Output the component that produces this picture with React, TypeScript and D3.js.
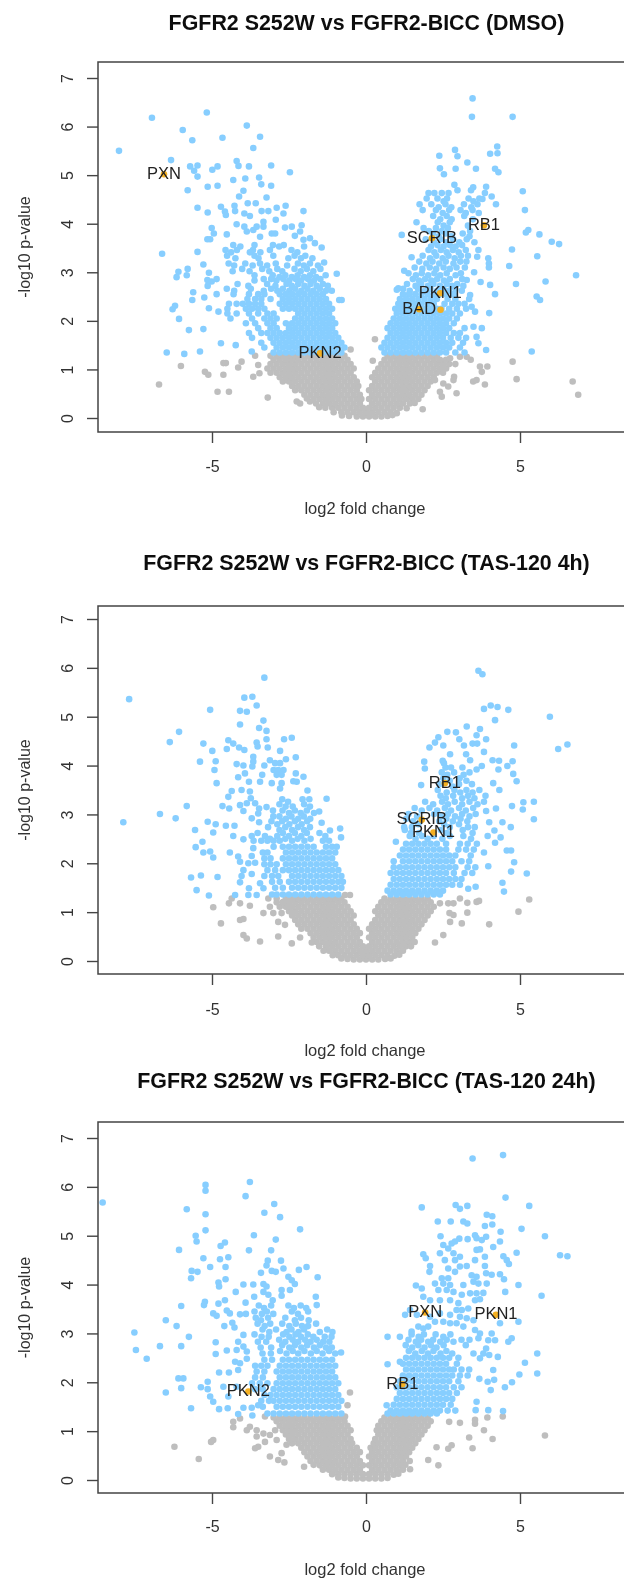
import React, { useEffect, useRef } from 'react'
import * as d3 from 'd3'

type Pt = [number, number]
type Row = [number, number[]]
type Hit = [string, number, number]

const xTicks = [-5, 0, 5]
const yTicks = [0, 1, 2, 3, 4, 5, 6, 7]

// DMSO
const dmsoSigScatter: Pt[] = [
  [-8.02,5.5],[-6.95,6.18],[-5.17,6.29],[-5.95,5.93],[-5.64,5.72],[-3.87,6.02],[-4.66,5.77],[-3.44,5.79],[-3.66,5.56],[-6.33,5.31],
  [-5.71,5.18],[-5.47,5.2],[-5.58,5.09],[-5.47,4.97],[-4.99,5.11],[-4.82,5.18],[-4.2,5.29],[-4.14,5.19],[-3.8,5.18],[-3.08,5.2],[-2.47,5.06],
  [-4.31,4.9],[-3.92,4.93],[-3.47,4.95],[-3.4,4.81],[-3.08,4.78],[-5.14,4.76],[-4.82,4.78],[-5.79,4.69],[-3.98,4.68],[-4.12,4.56],[-3.23,4.54],
  [-5.47,4.33],[-5.14,4.23],[-4.71,4.35],[-4.58,4.25],[-4.55,4.18],[-4.27,4.37],[-4.25,4.26],[-3.84,4.42],[-3.58,4.42],[-3.95,4.21],[-3.77,4.16],
  [-3.39,4.26],[-3.17,4.26],[-2.9,4.33],[-2.61,4.37],[-2.68,4.21],[-2.03,4.26],[-2.93,4.08],[-4.2,3.99],[-5.01,3.91],[-4.94,3.8],[-5.06,3.68],[-5.15,3.68],
  [-4.52,3.78],[-3.95,3.94],[-3.87,3.84],[-3.66,3.87],[-3.55,3.94],[-3.33,4.04],[-3.33,3.94],[-3.44,3.73],[-3.06,3.8],[-2.95,3.8],[-2.63,3.92],[-2.41,3.94],[-2.09,3.97],
  [-2.31,3.75],[-2.14,3.84],[-2.03,3.67],[-1.82,3.7],[-1.66,3.6],[-1.44,3.51],[-6.62,3.38],[-5.47,3.42],[-5.79,3.07],[-6.09,3.01],[-6.15,2.9],[-5.82,2.94],[-5.28,3.16],
  [-5.1,2.99],[-5.15,2.84],[-4.85,2.86],[-5.01,2.81],[-5.14,2.72],[-1.36,3.2],[-0.95,2.97],[-1.11,2.62],[-0.87,2.43],[-0.79,2.43],[-5.61,2.59],[-5.64,2.43],[-5.25,2.48],
  [-4.85,2.55],[-5.1,2.26],[-4.79,2.19],[-6.2,2.31],[-6.28,2.24],[-6.07,2.04],[-5.75,1.81],[-5.28,1.83],[-4.71,1.54],[-4.23,1.5],[-6.47,1.35],[-5.9,1.32],[-5.39,1.37],[-3.71,1.37],
  [3.46,6.58],[3.44,6.2],[4.76,6.2],[4.26,5.59],[4.03,5.44],[4.27,5.45],[2.89,5.52],[2.97,5.39],[2.38,5.4],[3.29,5.26],[2.4,5.14],[2.53,5.02],[2.91,5.13],[3.57,5.13],
  [4.19,5.13],[4.3,5.06],[2.87,4.8],[2.97,4.69],[3.48,4.75],[3.41,4.69],[3.9,4.76],[3.86,4.63],[4.08,4.56],[3.78,4.51],[5.09,4.67],[5.16,4.28],[4.22,4.4],[5.27,3.87],[5.19,3.82],
  [5.63,3.78],[6.03,3.63],[6.27,3.58],[4.74,3.47],[5.56,3.33],[4.65,3.13],[6.82,2.94],[3.97,3.29],[3.99,3.18],[3.99,3.1],[3.65,3.46],[3.61,3.32],[3.51,3.0],[3.72,2.8],[4.03,2.74],[4.19,2.55],
  [4.87,2.76],[5.83,2.81],[5.54,2.5],[5.65,2.43],[4.0,2.16],[5.38,1.37],[3.9,1.4],[3.43,2.29],[3.54,2.19],[3.38,2.53],[3.27,2.84],[3.49,1.88],[3.76,1.85],[3.59,1.67],[3.65,1.54],
  [1.16,3.77],[1.48,3.31],[1.24,3.03],[1.05,2.67],[1.0,2.64],
]
const dmsoSigRows: Row[] = [
  [4.63,[2.03,2.22,2.46,2.68]],
  [4.52,[1.97,2.32,2.63,3.33,3.68]],
  [4.46,[2.52,3.49]],
  [4.4,[1.74,2.12,2.58,3.18,3.62]],
  [4.34,[2.36,2.77,3.42]],
  [4.28,[1.84,2.27,2.7,3.07,3.46]],
  [4.22,[2.49,3.24,3.66]],
  [4.16,[2.18,2.62,3.19]],
  [4.09,[2.41,2.78,3.47]],
  [4.03,[1.64,2.33,2.72]],
  [3.96,[2.52,3.31]],
  [3.91,[1.87,2.27,2.66]],
  [3.85,[2.04,2.46,3.38]],
  [3.8,[2.17,2.58,3.14]],
  [3.74,[2.36,2.77,3.36]],
  [3.68,[1.94,2.42,2.83,3.27]],
  [3.62,[2.21,2.61,3.03,3.52]],
  [3.56,[-4.31,-3.62,-3.02,-2.67,2.32,2.72,3.12]],
  [3.53,[-4.08,-2.82,-2.01,2.11,2.52,2.91]],
  [3.46,[-4.56,-4.19,-3.67,-3.12,-2.42,2.03,2.43,2.82,3.24]],
  [3.41,[-4.38,-3.77,-3.43,-2.23,2.22,2.62,3.01]],
  [3.34,[-4.51,-3.62,-3.01,-2.32,-1.97,1.84,2.28,2.68,3.08,3.31]],
  [3.29,[-4.24,-3.49,-2.52,-2.11,-1.74,2.08,2.49,2.88]],
  [3.22,[1.73,2.16,2.59,3.06,3.26]],
  [3.18,[-4.46,-3.92,-3.44,-2.93,-2.21,-1.82,1.96,2.38,2.84]],
  [3.14,[-4.28,-3.68,-3.21,-2.56,-2.02,-1.56]],
  [3.1,[1.58,2.07,2.52,2.94,3.21]],
  [3.07,[-4.02,-3.37,-2.88,-2.32,-1.92,-1.48,1.83,2.28,2.72]],
  [3.02,[-4.33,-3.78,-3.14,-2.72,-2.12,-1.71]],
  [2.98,[1.38,1.81,2.22,2.62,3.08]],
  [2.94,[-3.62,-3.03,-2.62,-2.22,-1.82,-1.31,1.62,2.02,2.41,2.91]],
  [2.9,[-2.81,-2.41,-2.01,-1.62]],
  [2.86,[-3.32,-3.08,-2.68,-2.28,-1.88,-1.48,1.52,1.92,2.31,2.72,3.12]],
  [2.83,[-3.62,-2.91,-2.49,-2.11,-1.69,1.72,2.12,2.53]],
  [2.76,[-4.17,-3.21,-2.58,-2.2,-1.8,-1.4,1.33,1.79,2.19,2.62,2.96]],
  [2.72,[-3.82,-2.94,-2.41,-2,-1.6,-1.24,1.61,2.01,2.4,2.79,3.16]],
  [2.66,[-4.52,-3.74,-3.08,-2.7,-2.3,-1.9,-1.5,1.21,1.69,2.09,2.51,2.9]],
  [2.62,[-4.28,-3.32,-2.88,-2.49,-2.1,-1.71,-1.3,1.42,1.91,2.31,2.69,3.11]],
  [2.55,[-4.3,-3.8,-3.5,-3.3,-2.8,-2.6,-2.4,-2.2,-2,-1.8,-1.6,-1.4,1.2,1.4,1.6,1.8,2,2.2,2.4,2.6,2.85]],
  [2.45,[-3.85,-3.6,-3.4,-3.1,-2.7,-2.5,-2.3,-2.1,-1.9,-1.7,-1.5,-1.3,1.1,1.3,1.5,1.7,1.9,2.1,2.3,2.65,2.9,3.35]],
  [2.35,[-4.45,-4.2,-4,-3.8,-3.6,-3.4,-2.8,-2.6,-2.4,-2.2,-2,-1.8,-1.6,-1.4,-1.2,1.05,1.2,1.4,1.6,1.8,2,2.2,2.55,2.8,3,3.2]],
  [2.25,[-4.5,-3.9,-3.7,-3.5,-3.3,-2.7,-2.5,-2.3,-2.1,-1.9,-1.7,-1.5,-1.3,-1.1,0.95,1.1,1.3,1.5,1.7,1.9,2.1,2.3,2.45,2.7,2.95,3.25]],
  [2.15,[-4.5,-4.2,-3.8,-3.5,-3.2,-3,-2.2,-2,-1.8,-1.6,-1.4,-1.2,1,1.2,1.4,1.6,1.8,2,2.2,2.4,2.6,2.8,3.05]],
  [2.05,[-4.4,-3.7,-3.3,-3.1,-2.9,-2.3,-2.1,-1.9,-1.7,-1.5,-1.3,-1.1,0.9,1.1,1.3,1.5,1.7,1.9,2.1,2.3,2.5,2.7,2.95]],
  [1.95,[-3.9,-3.6,-3.2,-3,-2.6,-2.4,-2.2,-2,-1.8,-1.6,-1.4,-1.2,-1,0.8,1,1.2,1.4,1.6,1.8,2,2.2,2.4,2.6,2.85]],
  [1.85,[-3.5,-3.1,-2.9,-2.5,-2.3,-2.1,-1.9,-1.7,-1.5,-1.3,-1.1,0.7,0.9,1.1,1.3,1.5,1.7,1.9,2.1,2.3,2.5,2.7,3.2]],
  [1.75,[-3.8,-3.4,-3.2,-3,-2.8,-2.6,-2.4,-2.2,-2,-1.8,-1.6,-1.4,-1.2,-1,0.8,1,1.2,1.4,1.6,1.8,2,2.2,2.4,2.6,2.85,3.05]],
  [1.65,[-3.7,-3.1,-2.9,-2.7,-2.5,-2.3,-2.1,-1.9,-1.7,-1.5,-1.3,-1.1,-0.9,0.7,0.9,1.1,1.3,1.5,1.7,1.9,2.1,2.3,2.5,2.75,3,3.25]],
  [1.55,[-3.4,-3,-2.8,-2.6,-2.4,-2.2,-2,-1.8,-1.6,-1.4,-1.2,-1,-0.8,0.6,0.8,1,1.2,1.4,1.6,1.8,2,2.2,2.4,2.6,2.8,3.15]],
  [1.45,[-3.3,-2.9,-2.7,-2.5,-2.3,-2.1,-1.9,-1.7,-1.5,-1.3,-1.1,-0.9,-0.7,0.5,0.7,0.9,1.1,1.3,1.5,1.7,1.9,2.1,2.3,2.5,2.7,3.05]],
  [1.35,[-3,-2.8,-2.6,-2.4,-2.2,-2,-1.8,-1.6,-1.4,-1.2,-1,-0.8,0.6,0.8,1,1.2,1.4,1.6,1.8,2,2.2,2.4,2.6,2.9,3.2]],
]
const dmsoNsScatter: Pt[] = [
  [-6.72,0.69],[-6.01,1.07],[-5.23,0.95],[-5.12,0.89],[-4.63,1.13],[-4.55,1.13],[-4.63,0.89],[-4.82,0.54],[-4.45,0.54],[-4.04,1.16],[-4.15,1.04],[-3.6,1.28],[-3.5,1.09],[-3.66,0.85],[-3.46,0.92],
  [-3.19,0.42],[-2.25,0.34],[-2.14,0.3],[-0.5,1.41],[0.29,1.62],[0.22,1.18],[3.7,1.06],[3.94,1.06],[3.76,0.95],[4.76,1.16],[4.89,0.8],[2.86,0.85],[3.48,0.75],[3.59,0.78],
  [3.86,0.69],[6.71,0.75],[6.89,0.48],[1.84,0.18],[2.94,0.51],[2.46,0.44],[2.4,0.54],[2.84,0.78],[2.67,0.65],[2.51,0.71],[2.24,0.78],[2.73,1.23],[3.05,1.26],[3.27,1.26],
  [-1.05,0.12],[1.0,0.1],[-1.32,0.21],[-1.52,0.22],[1.32,0.2],[-1.62,0.3],[-1.82,0.34],[1.42,0.3],[1.58,0.31],[-1.92,0.4],[1.7,0.39],[-0.55,0.04],[-0.78,0.05],[0.7,0.04],[0.86,0.06],
]
const dmsoNsRows: Row[] = [
  [0.03,[-0.3,-0.1,0.1,0.3,0.5]],
  [0.12,[-0.8,-0.6,-0.4,-0.2,0,0.2,0.4,0.6,0.8]],
  [0.21,[-1.1,-0.9,-0.7,-0.5,-0.3,-0.1,0.1,0.3,0.5,0.7,0.9,1.1]],
  [0.3,[-1.4,-1.2,-1,-0.8,-0.6,-0.4,-0.2,0.2,0.4,0.6,0.8,1,1.2]],
  [0.39,[-1.7,-1.5,-1.3,-1.1,-0.9,-0.7,-0.5,-0.3,-0.15,0.1,0.3,0.5,0.7,0.9,1.1,1.3,1.5]],
  [0.48,[-2,-1.8,-1.6,-1.4,-1.2,-1,-0.8,-0.6,-0.4,-0.2,0.2,0.4,0.6,0.8,1,1.2,1.4,1.6,1.8]],
  [0.57,[-2.3,-2.1,-1.9,-1.7,-1.5,-1.3,-1.1,-0.9,-0.7,-0.5,-0.3,0.1,0.3,0.5,0.7,0.9,1.1,1.3,1.5,1.7,1.9]],
  [0.66,[-2.4,-2.2,-2,-1.8,-1.6,-1.4,-1.2,-1,-0.8,-0.6,-0.4,-0.25,0.2,0.4,0.6,0.8,1,1.2,1.4,1.6,1.8,2]],
  [0.75,[-2.7,-2.5,-2.3,-2.1,-1.9,-1.7,-1.5,-1.3,-1.1,-0.9,-0.7,-0.5,-0.3,0.3,0.5,0.7,0.9,1.1,1.3,1.5,1.7,1.9,2.1]],
  [0.84,[-2.8,-2.6,-2.4,-2.2,-2,-1.8,-1.6,-1.4,-1.2,-1,-0.8,-0.6,-0.4,0.2,0.4,0.6,0.8,1,1.2,1.4,1.6,1.8,2,2.2]],
  [0.93,[-3.1,-2.9,-2.7,-2.5,-2.3,-2.1,-1.9,-1.7,-1.5,-1.3,-1.1,-0.9,-0.7,-0.5,0.3,0.5,0.7,0.9,1.1,1.3,1.5,1.7,1.9,2.1,2.3,2.5]],
  [1.02,[-3.2,-3,-2.8,-2.6,-2.4,-2.2,-2,-1.8,-1.6,-1.4,-1.2,-1,-0.8,-0.6,-0.4,0.4,0.6,0.8,1,1.2,1.4,1.6,1.8,2,2.2,2.4,2.6]],
  [1.11,[-3.1,-2.9,-2.7,-2.5,-2.3,-2.1,-1.9,-1.7,-1.5,-1.3,-1.1,-0.9,-0.7,-0.5,0.5,0.7,0.9,1.1,1.3,1.5,1.7,1.9,2.1,2.3,2.5,2.7,2.9]],
  [1.2,[-3,-2.8,-2.6,-2.4,-2.2,-2,-1.8,-1.6,-1.4,-1.2,-1,-0.8,-0.6,0.6,0.8,1,1.2,1.4,1.6,1.8,2,2.2,2.4,2.6,3.4]],
  [1.28,[-3.1,-2.9,-2.7,-2.5,-2.3,-2.1,-1.9,-1.7,-1.5,-1.3,-1.1,-0.9,-0.7,0.7,0.9,1.1,1.3,1.5,1.7,1.9,2.1,2.3]],
]
const dmsoHits: Hit[] = [['PXN',-6.56,5.02],['PKN2',-1.49,1.33],['SCRIB',2.14,3.7],['RB1',3.83,3.97],['PKN1',2.41,2.57],['BAD',1.73,2.24],['',2.42,2.23]]

// TAS-120 4h
const h4SigScatter: Pt[] = [
  [-3.3,5.8],[-7.69,5.36],[-3.95,5.39],[-3.69,5.41],[-5.06,5.14],[-4.09,5.12],[-3.87,5.1],[-3.55,5.23],[-3.33,4.92],[-4.09,4.84],[-3.47,4.77],[-3.23,4.71],[-3.23,4.54],[-6.07,4.69],[-6.37,4.48],
  [-5.28,4.45],[-4.99,4.3],[-4.47,4.52],[-4.31,4.45],[-4.52,4.34],[-4.12,4.37],[-3.95,4.32],[-3.55,4.47],[-3.52,4.39],[-3.19,4.37],[-2.66,4.54],[-2.41,4.57],[-2.79,4.3],[-5.39,4.08],[-4.88,4.09],[-4.92,3.91],
  [-3.66,4.18],[-3.66,4.08],[-3.69,3.98],[-4.2,4.03],[-3.98,4.0],[-3.12,4.11],[-3.3,4.0],[-2.6,4.13],[-2.28,4.17],[-2.95,4.05],[-2.79,4.05],[-3.0,3.91],[-2.85,3.91],[-2.68,3.91],[-2.9,3.81],[-2.74,3.81],
  [-2.28,3.84],[-2.03,3.77],[-2.36,3.68],[-2.25,3.67],[-3.93,3.84],[-4.15,3.76],[-3.8,3.67],[-3.44,3.67],[-3.37,3.81],[-3.06,3.64],[-2.74,3.64],[-2.79,3.53],[-4.85,3.64],[-4.36,3.48],[-4.47,3.36],[-4.04,3.5],[-3.77,3.47],[-3.74,3.33],
  [-1.9,3.49],[-1.28,3.32],[-5.82,3.17],[-6.69,3.01],[-6.18,2.92],[-7.88,2.84],[-4.66,3.17],[-4.44,3.12],[-4.09,3.19],[-3.87,3.23],[-3.98,3.07],[-3.6,3.23],[-3.23,3.15],[-3.47,3.12],[-3.5,3.02],[-3.71,2.92],[-3.47,2.84],
  [-5.14,2.85],[-4.88,2.8],[-4.55,2.77],[-4.27,2.77],[-5.55,2.68],[-4.96,2.63],[-4.31,2.56],[-3.98,2.49],[-5.31,2.44],[-5.53,2.33],[-5.28,2.22],[-5.06,2.24],[-4.96,2.12],[-4.42,2.22],[-4.15,2.14],[-4.09,2.03],[-3.66,2.31],
  [-3.71,2.15],[-3.82,2.0],[-3.6,2.01],[-3.98,1.86],[-4.04,1.74],[-3.71,1.78],[-4.09,1.61],[-5.68,1.71],[-5.36,1.75],[-4.82,1.72],[-5.5,1.45],[-5.1,1.34],[-4.25,1.35],[-3.8,1.49],[-3.82,1.35],[-3.55,1.35],[-3.44,1.59],[-3.33,1.49],
  [-0.84,2.71],[-0.81,2.53],[-1.17,2.67],[-1.44,2.83],[-1.52,3.06],
  [3.65,5.94],[3.78,5.87],[3.83,5.16],[4.05,5.23],[4.27,5.2],[4.62,5.14],[4.19,4.93],[5.97,5.0],[6.24,4.34],[6.54,4.43],[3.27,4.8],[3.7,4.75],[3.59,4.62],[2.64,4.69],[2.92,4.68],[2.35,4.58],[3.03,4.54],[3.9,4.54],
  [2.06,4.37],[2.24,4.47],[2.51,4.41],[3.18,4.41],[3.46,4.45],[3.61,4.45],[4.81,4.41],[3.83,4.28],[2.73,4.23],[3.25,4.23],[3.38,4.11],[4.11,4.11],[4.32,4.1],[4.76,4.09],[1.89,4.08],[1.91,3.94],[2.49,4.1],[2.53,4.05],
  [3.59,3.92],[3.76,3.99],[4.3,3.92],[4.59,3.99],[4.78,3.83],[4.89,3.68],[4.13,3.64],[4.33,3.5],[1.79,3.6],[5.11,3.25],[5.45,3.26],[5.09,3.1],[4.74,3.17],[4.22,3.12],[3.9,3.07],[5.45,2.9],[4.0,2.84],[4.43,2.84],[4.7,2.74],
  [4.17,2.67],[4.37,2.53],[3.95,2.56],[4.19,2.42],[4.57,2.26],[4.71,2.26],[3.83,2.22],[4.81,2.02],[4.71,1.83],[5.22,1.79],[3.97,1.94],[4.43,1.6],[4.48,1.42],[0.97,2.44],[3.32,1.48],[3.56,1.52],
]
const h4SigRows: Row[] = [
  [3.96,[2.58,2.76,3.13]],
  [3.86,[2.46,2.86,3.36]],
  [3.81,[2.64,3.17]],
  [3.74,[2.51,3.04]],
  [3.69,[2.72,3.26]],
  [3.62,[2.38,3.02,3.44]],
  [3.57,[2.81]],
  [3.5,[2.33,2.87,3.26,3.68]],
  [3.45,[2.62,3.06,3.46]],
  [3.38,[2.42,2.83,3.31,3.88]],
  [3.33,[2.59,3.12,3.52]],
  [3.31,[-2.72,-2.06,-1.84]],
  [3.26,[-2.53,1.92,2.47,2.88,3.36,3.83]],
  [3.21,[-2.81,-2.01,2.18,2.66,3.12,3.62]],
  [3.16,[-2.61,-2.38,-1.82]],
  [3.13,[1.58,2.06,2.56,3.02,3.48]],
  [3.08,[-3.02,-2.71,-2.31,-1.92,1.81,2.31,2.76,3.24]],
  [3.03,[-2.5,-2.12,-1.69]],
  [3.01,[1.38,2.21,2.66,3.12,3.56]],
  [2.96,[-3.01,-2.81,-2.42,-2.02,1.66,2.43,2.89,3.36]],
  [2.91,[-2.6,-2.2,-1.81,1.31,2.61,3.07]],
  [2.86,[-3.07,-2.72,-2.31,-1.91,1.53,2.38,2.82,3.29]],
  [2.8,[-2.88,-2.49,-2.09,1.7,2.54,3.02]],
  [2.74,[-3.18,-2.62,-2.21,-1.82,1.24,1.49,2.72,3.31,3.53]],
  [2.68,[-2.81,-2.4,-2.01,1.26,2.43,3.14]],
  [2.62,[-3.52,-2.7,-2.31,-1.92,-1.51,1.46,1.72,2.62,3.46]],
  [2.56,[-3.71,-3.28,-2.88,-2.5,-2.1,-1.32,1.42,1.82,2.2,2.72,3.16]],
  [2.5,[-3.12,-2.62,-2.22,-1.8,1.61,2,2.48,3.41]],
  [2.46,[-3.65,-3.4,-3.2,-3,-2.8,-2.4,-2,-1.4,-1.2]],
  [2.4,[1.3,1.5,1.7,1.9,2.1,2.3,2.6,3.05,3.3,3.6]],
  [2.34,[-3,-2.7,-2.5,-2.3,-2.1,-1.9,-1.7,-1.3,-1.1,-0.95]],
  [2.28,[1.2,1.4,1.6,1.8,2,2.2,2.4,2.6,3,3.25,3.5]],
  [2.22,[-3.35,-3.2,-2.6,-2.4,-2.2,-2,-1.8,-1.6,-1.4,-1.2,-1]],
  [2.16,[1.1,1.3,1.5,1.7,1.9,2.1,2.3,2.5,2.7,2.9,3.4]],
  [2.1,[-3.3,-3.1,-2.7,-2.5,-2.3,-2.1,-1.9,-1.7,-1.5,-1.3,-1.1]],
  [2.04,[0.9,1.2,1.4,1.6,1.8,2,2.2,2.4,2.6,2.8,3.1,3.35]],
  [1.98,[-3.3,-3.1,-2.9,-2.6,-2.4,-2.2,-2,-1.8,-1.6,-1.4,-1.2,-1]],
  [1.92,[0.9,1.1,1.3,1.5,1.7,1.9,2.1,2.3,2.5,2.7,2.9,3.3,3.55]],
  [1.86,[-3.2,-2.95,-2.7,-2.5,-2.3,-2.1,-1.9,-1.7,-1.5,-1.3,-1.1,-0.9]],
  [1.8,[0.8,1,1.2,1.4,1.6,1.8,2,2.2,2.4,2.6,2.85,3.2,3.45]],
  [1.74,[-3.3,-3.05,-2.85,-2.4,-2.2,-2,-1.8,-1.6,-1.4,-1.2,-1,-0.8]],
  [1.68,[0.9,1.1,1.3,1.5,1.7,1.9,2.1,2.3,2.5,2.7,2.9,3.1]],
  [1.62,[-3.05,-2.8,-2.5,-2.3,-2.1,-1.9,-1.7,-1.5,-1.3,-1.1,-0.9,-0.75]],
  [1.56,[0.8,1,1.2,1.4,1.6,1.8,2,2.2,2.4,2.6,2.8,3.05]],
  [1.5,[-2.95,-2.7,-2.4,-2.2,-2,-1.8,-1.6,-1.4,-1.2,-1,-0.8]],
  [1.44,[0.7,0.9,1.1,1.3,1.5,1.7,1.9,2.1,2.3,2.5]],
  [1.36,[-3.05,-2.9,-2.7,-2.5,-2.3,-2.1,-1.9,-1.7,-1.5,-1.3,-1.1,-0.9,0.8,1,1.2,1.4,1.6,1.8,2,2.2,2.4]],
]
const h4NsScatter: Pt[] = [
  [-4.96,1.1],[-4.45,1.18],[-4.36,1.28],[-4.09,1.18],[-3.77,1.13],[-4.71,0.77],[-4.09,0.84],[-3.98,0.86],[-3.98,0.53],[-3.87,0.46],[-3.44,0.4],[-2.85,0.5],[-2.41,0.36],[-2.14,0.48],
  [-3.33,0.98],[-3.12,1.11],[-3.01,0.98],[-2.74,0.98],[-2.63,0.74],[-2.85,0.8],[-3.17,1.28],[-2.9,1.28],[-2.68,1.21],[-0.52,1.35],[-0.68,1.35],
  [3.05,1.28],[3.29,1.19],[3.59,1.21],[3.67,1.23],[3.29,0.99],[2.71,0.98],[2.84,0.94],[3.11,0.77],[4.0,0.75],[4.95,1.01],[5.3,1.26],[2.24,0.38],[2.51,0.53],[2.73,0.8],[2.67,1.18],[2.84,1.18],[2.4,1.18],
  [-1.08,0.12],[0.92,0.11],[1.08,0.13],[-1.38,0.21],[1.2,0.21],[-1.52,0.3],[1.46,0.3],[-1.76,0.38],[1.58,0.39],[-0.6,0.04],[-0.8,0.05],[0.62,0.04],[0.8,0.05],
]
const h4NsRows: Row[] = [
  [0.03,[-0.4,-0.2,0,0.2,0.4]],
  [0.12,[-0.9,-0.7,-0.5,-0.3,-0.1,0.1,0.3,0.5,0.7]],
  [0.21,[-1.2,-1,-0.8,-0.6,-0.4,-0.2,0,0.2,0.4,0.6,0.8,1]],
  [0.3,[-1.3,-1.1,-0.9,-0.7,-0.5,-0.3,-0.1,0.1,0.3,0.5,0.7,0.9,1.1,1.3]],
  [0.39,[-1.6,-1.4,-1.2,-1,-0.8,-0.6,-0.4,-0.2,0.2,0.4,0.6,0.8,1,1.2,1.4]],
  [0.48,[-1.7,-1.5,-1.3,-1.1,-0.9,-0.7,-0.5,-0.3,0.1,0.3,0.5,0.7,0.9,1.1,1.3,1.5]],
  [0.57,[-1.8,-1.6,-1.4,-1.2,-1,-0.8,-0.6,-0.4,-0.2,0.2,0.4,0.6,0.8,1,1.2,1.4,1.6]],
  [0.66,[-2.1,-1.9,-1.7,-1.5,-1.3,-1.1,-0.9,-0.7,-0.5,-0.3,0.1,0.3,0.5,0.7,0.9,1.1,1.3,1.5,1.7]],
  [0.75,[-2.2,-2,-1.8,-1.6,-1.4,-1.2,-1,-0.8,-0.6,-0.4,0.2,0.4,0.6,0.8,1,1.2,1.4,1.6,1.8]],
  [0.84,[-2.3,-2.1,-1.9,-1.7,-1.5,-1.3,-1.1,-0.9,-0.7,-0.5,0.3,0.5,0.7,0.9,1.1,1.3,1.5,1.7,1.9]],
  [0.93,[-2.4,-2.2,-2,-1.8,-1.6,-1.4,-1.2,-1,-0.8,-0.6,-0.4,0.4,0.6,0.8,1,1.2,1.4,1.6,1.8,2]],
  [1.02,[-2.5,-2.3,-2.1,-1.9,-1.7,-1.5,-1.3,-1.1,-0.9,-0.7,-0.5,0.3,0.5,0.7,0.9,1.1,1.3,1.5,1.7,1.9,2.1]],
  [1.11,[-2.8,-2.6,-2.4,-2.2,-2,-1.8,-1.6,-1.4,-1.2,-1,-0.8,-0.6,0.4,0.6,0.8,1,1.2,1.4,1.6,1.8,2,2.2]],
  [1.2,[-2.9,-2.7,-2.5,-2.3,-2.1,-1.9,-1.7,-1.5,-1.3,-1.1,-0.9,-0.7,0.5,0.7,0.9,1.1,1.3,1.5,1.7,1.9,2.1]],
  [1.28,[-2.6,-2.4,-2.2,-2,-1.8,-1.6,-1.4,-1.2,-1,-0.8,0.6,0.8,1,1.2,1.4,1.6,1.8,2]],
]
const h4Hits: Hit[] = [['RB1',2.56,3.64],['SCRIB',1.81,2.89],['PKN1',2.19,2.63]]

// TAS-120 24h
const h24SigScatter: Pt[] = [
  [-8.55,5.68],[-3.77,6.1],[-5.21,6.04],[-5.21,5.92],[-3.91,5.81],[-2.98,5.65],[-5.82,5.54],[-5.21,5.44],[-3.3,5.47],[-2.79,5.38],[-5.21,5.11],[-2.14,5.13],[-5.53,5.0],[-5.5,4.88],[-3.64,5.01],[-2.93,4.92],
  [-4.58,4.86],[-4.72,4.79],[-6.07,4.71],[-3.8,4.7],[-3.08,4.7],[-5.28,4.54],[-4.74,4.52],[-4.47,4.56],[-5.06,4.36],[-4.56,4.36],[-5.66,4.28],[-5.47,4.26],[-5.68,4.13],[-4.56,4.11],[-4.79,4.04],[-4.77,3.96],
  [-3.19,4.49],[-3.23,4.39],[-2.76,4.49],[-2.68,4.33],[-3.41,4.24],[-3.06,4.28],[-2.93,4.26],[-2.18,4.3],[-1.93,4.36],[-1.57,4.15],[-3.98,4.0],[-3.66,4.0],[-4.23,3.85],[-3.33,4.01],[-3.23,3.96],[-3.33,3.85],[-3.17,3.79],
  [-2.52,4.16],[-2.41,4.09],[-2.31,4.01],[-2.47,3.89],[-2.74,3.89],[-2.74,3.77],[-3.63,3.75],[-3.03,3.68],[-1.63,3.75],[-1.6,3.58],[-4.58,3.68],[-4.79,3.61],[-5.23,3.65],[-5.26,3.58],[-6.0,3.56],[-3.91,3.63],
  [-4.96,3.41],[-4.85,3.36],[-4.52,3.47],[-4.42,3.41],[-4.09,3.39],[-3.9,3.4],[-6.5,3.27],[-6.15,3.15],[-4.6,3.15],[-4.34,3.22],[-4.27,3.12],[-7.52,3.02],[-5.75,2.93],[-7.47,2.66],[-7.12,2.48],[-6.69,2.74],[-6.0,2.74],
  [-4.88,2.82],[-4.88,2.58],[-4.52,2.65],[-4.15,2.83],[-3.98,2.97],[-4.2,2.66],[-3.98,2.73],[-3.87,2.63],[-3.87,2.48],[-4.25,2.42],[-4.09,2.39],[-4.77,2.2],[-4.45,2.2],[-4.15,2.25],[-6.09,2.08],[-5.93,2.08],[-6.0,1.88],
  [-6.5,1.79],[-5.14,2.01],[-5.36,1.9],[-5.14,1.86],[-5.06,1.71],[-4.96,1.6],[-5.68,1.47],[-4.77,1.45],[-4.49,1.47],[-4.15,1.35],[-3.98,1.48],[-3.71,1.48],[-3.69,1.32],[-3.5,1.53],[-4.63,1.91],[-4.47,1.71],[-4.2,1.91],[-0.81,2.61],
  [3.46,6.58],[4.45,6.65],[4.53,5.78],[1.81,5.58],[2.91,5.63],[3.05,5.55],[3.29,5.61],[5.3,5.61],[3.92,5.43],[4.1,5.4],[2.33,5.29],[2.75,5.29],[3.16,5.29],[3.29,5.25],[3.86,5.2],[4.1,5.23],[4.37,5.08],[5.05,5.14],
  [5.81,4.99],[2.42,4.99],[3.03,4.94],[3.3,4.93],[3.54,5.01],[3.59,4.95],[3.9,4.98],[3.76,4.91],[4.35,4.88],[4.13,4.77],[2.78,4.84],[2.89,4.88],[2.51,4.81],[3.59,4.71],[3.7,4.72],[4.89,4.65],[6.3,4.6],[6.54,4.58],
  [4.46,4.58],[4.57,4.5],[4.64,4.42],[1.86,4.62],[1.94,4.54],[2.08,4.38],[2.06,4.26],[2.4,4.64],[2.67,4.74],[2.84,4.64],[3.05,4.57],[3.54,4.5],[3.86,4.57],[2.56,4.5],[2.89,4.5],[2.67,4.33],[3.05,4.37],[3.27,4.38],[2.89,4.26],
  [3.86,4.38],[3.9,4.23],[4.08,4.2],[3.92,4.02],[3.43,4.19],[3.59,4.16],[3.49,4.06],[3.65,4.02],[4.35,4.21],[4.48,4.11],[4.95,3.99],[4.52,3.85],[5.7,3.77],[1.62,3.98],[1.81,3.92],[2.24,4.02],[2.46,4.13],[2.67,4.13],
  [2.51,4.02],[2.73,3.99],[2.35,3.89],[2.62,3.89],[2.84,3.85],[3.16,3.99],[3.11,3.79],[3.38,3.82],[3.59,3.82],[3.81,3.83],[3.54,3.68],[3.7,3.7],[1.86,3.75],[2.08,3.68],[2.4,3.68],[2.73,3.68],[3.0,3.62],[3.11,3.48],[2.94,3.48],[3.32,3.51],
  [1.27,3.38],[1.43,3.48],[1.65,3.38],[2.08,3.34],[2.4,3.41],[2.73,3.38],[4.95,3.24],[4.35,3.21],[3.05,3.34],[3.27,3.31],[2.94,3.21],[3.16,3.14],[3.49,3.27],[1.48,3.04],[1.7,3.14],[1.86,3.1],[2.02,3.14],[2.24,3.24],[2.51,3.24],[2.73,3.21],
  [0.7,2.93],[1.1,2.93],[3.54,3.07],[3.7,3.0],[4.08,3.0],[3.97,2.86],[4.19,2.86],[3.65,2.9],[4.62,2.83],[4.73,2.9],[3.9,2.69],[3.49,2.59],[3.7,2.49],[4.0,2.56],[4.28,2.52],[3.81,2.59],[5.56,2.59],[5.16,2.4],[5.56,2.18],[4.98,2.16],
  [0.7,2.37],[1.1,2.42],[4.13,2.25],[3.68,2.07],[3.95,2.01],[4.16,2.05],[4.05,1.84],[4.51,1.9],[4.74,2.0],[3.97,1.43],[4.45,1.41],[3.59,1.6],[3.56,1.43],[0.67,1.53],
]
const h24SigRows: Row[] = [
  [3.57,[-3.48,-3.08,-2.52,-2.12]],
  [3.52,[-3.31,-2.34,-1.94]],
  [3.45,[-3.62,-3.22,-2.41,-1.88]],
  [3.4,[-3.38,-3.01,-2.21]],
  [3.32,[-3.58,-3.18,-2.62,-2.11]],
  [3.27,[-3.41,-2.31,-1.86]],
  [3.2,[-3.52,-3.11,-2.72,-2.28,-1.62]],
  [3.15,[-3.29,-2.49,-2.08,-1.88]],
  [3.08,[-3.36,-2.92,-2.42,-2.01,-1.26]],
  [3.03,[-3.14,-2.58,-2.19,-1.5,-1.09]],
  [2.98,[-3.62,-2.69,-2.29,-1.89,1.48,1.88,2.26,2.74]],
  [2.93,[-3.39,-3.16,-2.49,-2.11,-1.71,-1.34,-1.12,1.71,2.51]],
  [2.87,[-2.82,-2.38,-1.98,-1.6,1.38,1.79,2.18,2.62,3.1,3.36]],
  [2.83,[-3.51,-3.24,-2.62,-2.2,-1.8,-1.39,-1.19,1.62,2.02,2.41,2.84]],
  [2.76,[-2.72,-2.31,-1.91,-1.5,1.29,1.7,2.11,2.52,3.24]],
  [2.71,[-3.42,-3.08,-2.49,-2.1,-1.69,-1.3,-1.11,1.5,1.9,2.29]],
  [2.64,[-2.79,-2.38,-2,-1.6,-1.2,1.39,1.81,2.19,2.61]],
  [2.59,[-3.36,-3.09,-2.58,-2.2,-1.79,-1.41,-1,1.6,2.01,2.42,2.8]],
  [2.5,[1.3,1.5,1.7,1.9,2.1,2.3,2.5,2.7,3]],
  [2.46,[-3.3,-3.05,-2.7,-2.5,-2.3,-2.1,-1.9,-1.7,-1.5,-1.3,-1.1]],
  [2.38,[1.2,1.4,1.6,1.8,2,2.2,2.4,2.6,2.95]],
  [2.34,[-3.6,-3.4,-3.2,-2.8,-2.6,-2.4,-2.2,-2,-1.8,-1.6,-1.4,-1.2,-1]],
  [2.26,[1.3,1.5,1.7,1.9,2.1,2.3,2.5,2.7,2.85,3.1,3.35]],
  [2.22,[-3.55,-3.3,-2.9,-2.7,-2.5,-2.3,-2.1,-1.9,-1.7,-1.5,-1.3,-1.1]],
  [2.14,[1.2,1.4,1.6,1.8,2,2.2,2.4,2.6,2.8,3.05,3.3]],
  [2.1,[-3.6,-3.35,-2.8,-2.6,-2.4,-2.2,-2,-1.8,-1.6,-1.4,-1.2,-1]],
  [2.02,[1.1,1.3,1.5,1.7,1.9,2.1,2.3,2.5,2.7,3]],
  [1.98,[-3.7,-3.45,-3.2,-2.9,-2.7,-2.5,-2.3,-2.1,-1.9,-1.7,-1.5,-1.3,-1.1,-0.9]],
  [1.9,[1,1.2,1.4,1.6,1.8,2,2.2,2.4,2.6,2.85,3.1]],
  [1.86,[-3.6,-3.35,-3,-2.8,-2.6,-2.4,-2.2,-2,-1.8,-1.6,-1.4,-1.2,-1]],
  [1.78,[1.1,1.3,1.5,1.7,1.9,2.1,2.3,2.5,2.7,2.95]],
  [1.74,[-3.3,-3.1,-2.9,-2.7,-2.5,-2.3,-2.1,-1.9,-1.7,-1.5,-1.3,-1.1,-0.9]],
  [1.66,[1,1.2,1.4,1.6,1.8,2,2.2,2.4,2.6,2.8]],
  [1.62,[-3.4,-3.15,-3,-2.8,-2.6,-2.4,-2.2,-2,-1.8,-1.6,-1.4,-1.2,-1,-0.8]],
  [1.54,[0.9,1.1,1.3,1.5,1.7,1.9,2.1,2.3,2.5,2.75]],
  [1.5,[-3.35,-2.9,-2.7,-2.5,-2.3,-2.1,-1.9,-1.7,-1.5,-1.3,-1.1,-0.9]],
  [1.42,[0.8,1,1.2,1.4,1.6,1.8,2,2.2,2.4,2.65,2.9]],
  [1.36,[-3.2,-3,-2.8,-2.6,-2.4,-2.2,-2,-1.8,-1.6,-1.4,-1.2,-1,-0.8,0.7,0.9,1.1,1.3,1.5,1.7,1.9,2.1,2.3]],
]
const h24NsScatter: Pt[] = [
  [-6.22,0.68],[-5.43,0.43],[-4.96,0.82],[-5.03,0.78],[-4.31,1.19],[-4.31,1.08],[-4.09,1.26],[-3.87,1.02],[-3.6,0.65],[-3.5,0.68],[-3.12,0.48],[-2.74,0.55],[-2.85,0.41],[-2.65,0.36],[-2.01,0.27],
  [-3.77,1.09],[-3.55,1.02],[-3.33,0.95],[-3.12,0.92],[-3.55,0.89],[-3.28,0.78],[-2.9,0.82],[-2.95,1.02],[-3.28,1.3],[-3,1.28],[-2.58,0.72],[-0.52,1.79],[-0.6,1.53],[-0.68,1.3],
  [2.7,1.19],[3.05,1.17],[3.54,1.23],[3.54,1.15],[3.94,1.28],[4.44,1.3],[3.83,1.02],[3.35,0.87],[4.11,0.84],[3.46,0.65],[5.81,0.91],[2.67,0.64],[2.78,0.71],[2.29,0.67],[2.35,0.3],[1.43,0.22],[2.02,0.41],
  [-1.1,0.12],[0.9,0.11],[1.05,0.13],[-1.4,0.21],[1.2,0.21],[-1.7,0.31],[1.28,0.31],[-1.8,0.39],[1.42,0.39],[-0.7,0.04],[-0.9,0.05],[0.7,0.04],
]
const h24NsRows: Row[] = [
  [0.03,[-0.5,-0.3,-0.1,0.1,0.3,0.5]],
  [0.12,[-0.9,-0.7,-0.5,-0.3,-0.1,0.1,0.3,0.5,0.7]],
  [0.21,[-1.2,-1,-0.8,-0.6,-0.4,-0.2,0.2,0.4,0.6,0.8,1]],
  [0.3,[-1.5,-1.3,-1.1,-0.9,-0.7,-0.5,-0.3,-0.1,0.1,0.3,0.5,0.7,0.9,1.1]],
  [0.39,[-1.6,-1.4,-1.2,-1,-0.8,-0.6,-0.4,-0.2,0.2,0.4,0.6,0.8,1,1.2]],
  [0.48,[-1.9,-1.7,-1.5,-1.3,-1.1,-0.9,-0.7,-0.5,-0.3,0.1,0.3,0.5,0.7,0.9,1.1,1.3]],
  [0.57,[-2,-1.8,-1.6,-1.4,-1.2,-1,-0.8,-0.6,-0.4,-0.2,0.2,0.4,0.6,0.8,1,1.2,1.4]],
  [0.66,[-2.1,-1.9,-1.7,-1.5,-1.3,-1.1,-0.9,-0.7,-0.5,-0.3,0.15,0.3,0.5,0.7,0.9,1.1,1.3,1.5]],
  [0.75,[-2.4,-2.2,-2,-1.8,-1.6,-1.4,-1.2,-1,-0.8,-0.6,-0.45,0.25,0.4,0.6,0.8,1,1.2,1.4,1.6]],
  [0.84,[-2.5,-2.3,-2.1,-1.9,-1.7,-1.5,-1.3,-1.1,-0.9,-0.7,-0.5,0.3,0.5,0.7,0.9,1.1,1.3,1.5,1.7]],
  [0.93,[-2.6,-2.4,-2.2,-2,-1.8,-1.6,-1.4,-1.2,-1,-0.8,-0.6,0.4,0.6,0.8,1,1.2,1.4,1.6,1.8]],
  [1.02,[-2.7,-2.5,-2.3,-2.1,-1.9,-1.7,-1.5,-1.3,-1.1,-0.9,-0.7,-0.5,0.35,0.5,0.7,0.9,1.1,1.3,1.5,1.7,1.9]],
  [1.11,[-2.8,-2.6,-2.4,-2.2,-2,-1.8,-1.6,-1.4,-1.2,-1,-0.8,-0.6,0.4,0.6,0.8,1,1.2,1.4,1.6,1.8,2]],
  [1.2,[-2.9,-2.7,-2.5,-2.3,-2.1,-1.9,-1.7,-1.5,-1.3,-1.1,-0.9,-0.7,0.5,0.7,0.9,1.1,1.3,1.5,1.7,1.9,2.1]],
  [1.28,[-2.8,-2.6,-2.4,-2.2,-2,-1.8,-1.6,-1.4,-1.2,-1,-0.8,0.6,0.8,1,1.2,1.4,1.6,1.8,2]],
]
const h24Hits: Hit[] = [['PKN2',-3.82,1.81],['PXN',1.92,3.43],['PKN1',4.22,3.38],['RB1',1.18,1.96]]

const panels = [
  { title: 'FGFR2 S252W vs FGFR2-BICC (DMSO)', titleY: 24, top: 62, bottom: 432, y0: 418, y7: 78, tickY: 468, labelY: 510, sigScatter: dmsoSigScatter, sigRows: dmsoSigRows, nsScatter: dmsoNsScatter, nsRows: dmsoNsRows, hits: dmsoHits },
  { title: 'FGFR2 S252W vs FGFR2-BICC (TAS-120 4h)', titleY: 564, top: 606, bottom: 974, y0: 961, y7: 619, tickY: 1011, labelY: 1052, sigScatter: h4SigScatter, sigRows: h4SigRows, nsScatter: h4NsScatter, nsRows: h4NsRows, hits: h4Hits },
  { title: 'FGFR2 S252W vs FGFR2-BICC (TAS-120 24h)', titleY: 1082, top: 1122, bottom: 1493, y0: 1480, y7: 1138, tickY: 1528, labelY: 1571, sigScatter: h24SigScatter, sigRows: h24SigRows, nsScatter: h24NsScatter, nsRows: h24NsRows, hits: h24Hits },
]

const font = '"Liberation Sans", Arial, sans-serif'

const fromRows = (rows: Row[]): Pt[] => rows.flatMap(([y, xs]) => xs.map(x => [x, y] as Pt))

const App: React.FC = () => {
  const svgRef = useRef<SVGSVGElement | null>(null)

  useEffect(() => {
    if (!svgRef.current) return
    document.body.style.margin = '0'

    const svg = d3.select(svgRef.current)
    svg.selectAll('*').remove()

    // the reference is a soft upscaled image, a small blur gets close to it
    svg.append('defs').append('filter').attr('id', 'soft')
      .append('feGaussianBlur').attr('stdDeviation', 0.75)
    const root = svg.append('g').attr('filter', 'url(#soft)')

    const x = d3.scaleLinear().domain([-5, 5]).range([212, 520])
    const marker = d3.symbol().type(d3.symbolCircle).size(34)()

    panels.forEach(p => {
      const y = d3.scaleLinear().domain([0, 7]).range([p.y0, p.y7])
      const g = root.append('g')

      const drawPts = (pts: Pt[], color: string) => {
        g.append('g').selectAll('path').data(pts).enter().append('path')
          .attr('d', marker)
          .attr('fill', color)
          .attr('transform', d => `translate(${x(d[0])},${y(d[1])})`)
      }
      drawPts(fromRows(p.nsRows).concat(p.nsScatter), '#BEBEBE')
      drawPts(fromRows(p.sigRows).concat(p.sigScatter), '#87CEFF')
      drawPts(p.hits.map(h => [h[1], h[2]] as Pt), '#F4B020')

      // box, the right side runs off the page
      g.append('path')
        .attr('d', `M630,${p.top}H98V${p.bottom}H630`)
        .attr('fill', 'none').attr('stroke', '#444').attr('stroke-width', 1.5)

      const yAxis = g.append('g').attr('transform', 'translate(98,0)')
        .call(d3.axisLeft(y).tickValues(yTicks).tickSize(11).tickFormat(d => String(d)))
      yAxis.select('.domain').remove()
      yAxis.selectAll('line').attr('stroke', '#444').attr('stroke-width', 1.4)
      yAxis.selectAll('text')
        .attr('x', 0).attr('dy', 0)
        .attr('transform', 'translate(-29,0) rotate(-90)')
        .attr('text-anchor', 'middle').attr('dominant-baseline', 'middle')
        .attr('font-family', font).attr('font-size', 16).attr('fill', '#333')

      const xAxis = g.append('g').attr('transform', `translate(0,${p.bottom})`)
        .call(d3.axisBottom(x).tickValues(xTicks).tickSize(11).tickFormat(d => String(d)))
      xAxis.select('.domain').remove()
      xAxis.selectAll('line').attr('stroke', '#444').attr('stroke-width', 1.4)
      xAxis.selectAll('text')
        .attr('y', p.tickY - p.bottom).attr('dy', 0)
        .attr('dominant-baseline', 'middle')
        .attr('font-family', font).attr('font-size', 16).attr('fill', '#333')

      // gene labels sit right on their points
      g.append('g').selectAll('text').data(p.hits.filter(h => h[0])).enter().append('text')
        .attr('x', d => x(d[1]))
        .attr('y', d => y(d[2]))
        .attr('text-anchor', 'middle').attr('dominant-baseline', 'middle')
        .attr('font-family', font).attr('font-size', 16.5).attr('fill', '#222')
        .text(d => d[0])

      g.append('text')
        .attr('x', 366.5).attr('y', p.titleY)
        .attr('text-anchor', 'middle').attr('dominant-baseline', 'middle')
        .attr('font-family', font).attr('font-size', 21.4).attr('font-weight', 'bold').attr('fill', '#111')
        .text(p.title)

      g.append('text')
        .attr('x', 365).attr('y', p.labelY)
        .attr('text-anchor', 'middle').attr('dominant-baseline', 'middle')
        .attr('font-family', font).attr('font-size', 16.5).attr('fill', '#333')
        .text('log2 fold change')

      g.append('text')
        .attr('transform', `translate(26,${(p.top + p.bottom) / 2}) rotate(-90)`)
        .attr('text-anchor', 'middle').attr('dominant-baseline', 'middle')
        .attr('font-family', font).attr('font-size', 16).attr('fill', '#333')
        .text('-log10 p-value')
    })
  }, [])

  return <svg ref={svgRef} width={624} height={1579} style={{ display: 'block', background: '#fff' }} />
}

export default App
